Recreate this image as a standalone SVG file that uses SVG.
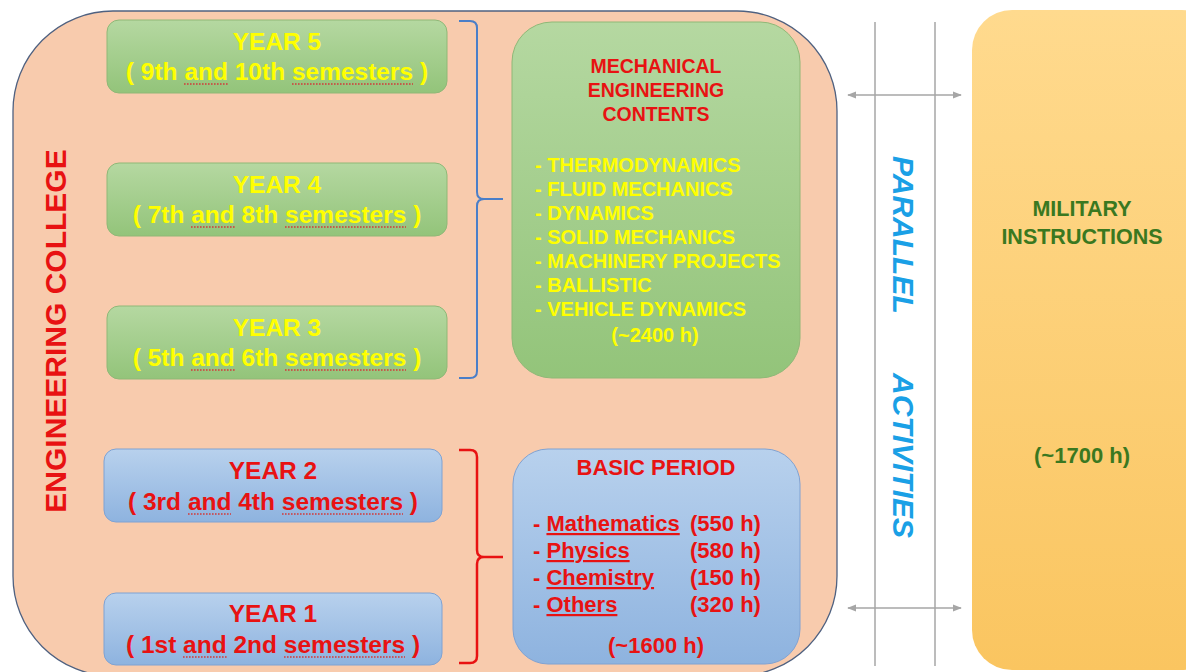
<svg xmlns="http://www.w3.org/2000/svg" width="1186" height="672" viewBox="0 0 1186 672">
<defs>
<linearGradient id="gGreen" x1="0" y1="0" x2="0" y2="1"><stop offset="0" stop-color="#b5d8a1"/><stop offset="1" stop-color="#93c47a"/></linearGradient>
<linearGradient id="gBlue" x1="0" y1="0" x2="0" y2="1"><stop offset="0" stop-color="#b8d1ed"/><stop offset="1" stop-color="#8eb3df"/></linearGradient>
<linearGradient id="gOrange" x1="0" y1="0" x2="0" y2="1"><stop offset="0" stop-color="#ffda8e"/><stop offset="1" stop-color="#fac560"/></linearGradient>
<marker id="ah" viewBox="0 0 10 10" refX="9" refY="5" markerWidth="6" markerHeight="6" orient="auto-start-reverse"><path d="M0,1 L10,5 L0,9 Z" fill="#a6a6a6"/></marker>
</defs>
<style>
text{font-family:"Liberation Sans",Arial,sans-serif;font-weight:bold}
.green{fill:url(#gGreen);stroke:#8fb877;stroke-width:1}
.blue{fill:url(#gBlue);stroke:#7fa2d3;stroke-width:1}
.yel{fill:#ffff00}
.red{fill:#e81212}
.yt{font-size:24.5px;text-anchor:middle}
.spell{stroke:#d23a3a;stroke-width:1.6;stroke-dasharray:1.6 1.4;fill:none}
.mech{font-size:20px}
.basic{font-size:22px}
.gray{stroke:#a6a6a6;stroke-width:1.5;fill:none}
</style>
<rect width="1186" height="672" fill="#ffffff"/>

<g id="engineering-college">
<rect x="13" y="11" width="824" height="665" rx="100" ry="100" fill="#f8cbad" stroke="#4f6180" stroke-width="1.3"/>
<text class="red" font-size="30" text-anchor="middle" transform="translate(66,331) rotate(-90)">ENGINEERING COLLEGE</text>
</g>

<g id="year5">
<rect class="green" x="107" y="20" width="340" height="73" rx="12"/>
<text class="yel yt" x="277" y="50">YEAR 5</text>
<text class="yel yt" x="277" y="80">( 9th and 10th semesters )</text>
<path class="spell" d="M184,84H228M292,84H413"/>
</g>
<g id="year4">
<rect class="green" x="107" y="163" width="340" height="73" rx="12"/>
<text class="yel yt" x="277" y="193">YEAR 4</text>
<text class="yel yt" x="277" y="223">( 7th and 8th semesters )</text>
<path class="spell" d="M191,227H235M285,227H406"/>
</g>
<g id="year3">
<rect class="green" x="107" y="306" width="340" height="73" rx="12"/>
<text class="yel yt" x="277" y="336">YEAR 3</text>
<text class="yel yt" x="277" y="366">( 5th and 6th semesters )</text>
<path class="spell" d="M191,370H235M285,370H406"/>
</g>
<g id="year2">
<rect class="blue" x="104" y="449" width="338" height="73" rx="12"/>
<text class="red yt" x="273" y="479">YEAR 2</text>
<text class="red yt" x="273" y="510">( 3rd and 4th semesters )</text>
<path class="spell" d="M188,514H231M282,514H403"/>
</g>
<g id="year1">
<rect class="blue" x="104" y="593" width="338" height="72" rx="12"/>
<text class="red yt" x="273" y="622">YEAR 1</text>
<text class="red yt" x="273" y="653">( 1st and 2nd semesters )</text>
<path class="spell" d="M183,657H227M284,657H405"/>
</g>

<g id="mechanical-contents">
<rect class="green" x="512" y="22" width="288" height="356" rx="40"/>
<text class="red" font-size="19.5" text-anchor="middle"><tspan x="656" y="73">MECHANICAL</tspan><tspan x="656" y="97">ENGINEERING</tspan><tspan x="656" y="121">CONTENTS</tspan></text>
<text class="yel mech"><tspan x="535" y="172">- THERMODYNAMICS</tspan><tspan x="535" y="196">- FLUID MECHANICS</tspan><tspan x="535" y="220">- DYNAMICS</tspan><tspan x="535" y="244">- SOLID MECHANICS</tspan><tspan x="535" y="268">- MACHINERY PROJECTS</tspan><tspan x="535" y="292">- BALLISTIC</tspan><tspan x="535" y="316">- VEHICLE DYNAMICS</tspan></text>
<text class="yel mech" x="655" y="342" text-anchor="middle">(~2400 h)</text>
</g>

<g id="basic-period">
<rect class="blue" x="513" y="449" width="287" height="215" rx="35"/>
<text class="red" font-size="22" x="656" y="475" text-anchor="middle">BASIC PERIOD</text>
<text class="red basic"><tspan x="533" y="531">- <tspan text-decoration="underline">Mathematics</tspan></tspan><tspan x="533" y="558">- <tspan text-decoration="underline">Physics</tspan></tspan><tspan x="533" y="585">- <tspan text-decoration="underline">Chemistry</tspan></tspan><tspan x="533" y="612">- <tspan text-decoration="underline">Others</tspan></tspan></text>
<text class="red basic"><tspan x="690" y="531">(550 h)</tspan><tspan x="690" y="558">(580 h)</tspan><tspan x="690" y="585">(150 h)</tspan><tspan x="690" y="612">(320 h)</tspan></text>
<text class="red basic" x="656" y="653" text-anchor="middle">(~1600 h)</text>
</g>

<g id="military-instructions">
<rect x="972" y="10" width="250" height="660" rx="40" fill="url(#gOrange)"/>
<text fill="#3a7820" font-size="21.5" text-anchor="middle"><tspan x="1082" y="216">MILITARY</tspan><tspan x="1082" y="244">INSTRUCTIONS</tspan></text>
<text fill="#3a7820" font-size="22" x="1082" y="463" text-anchor="middle">(~1700 h)</text>
</g>

<g id="parallel-activities">
<text fill="#1aa0e6" font-size="30" font-style="italic" transform="translate(893,156) rotate(90)">PARALLEL</text>
<text fill="#1aa0e6" font-size="30" font-style="italic" transform="translate(893,373) rotate(90)">ACTIVITIES</text>
</g>

<g id="connectors">
<path d="M459,21 L470,21 Q477,21 477,28 L477,192 Q477,199 484,199 L503,199 M484,199 Q477,199 477,206 L477,371 Q477,378 470,378 L459,378" fill="none" stroke="#4a7ec8" stroke-width="2"/>
<path d="M459,450 L470,450 Q477,450 477,457 L477,550 Q477,557 484,557 L503,557 M484,557 Q477,557 477,564 L477,656 Q477,663 470,663 L459,663" fill="none" stroke="#e81212" stroke-width="2.5"/>
<line class="gray" x1="875" y1="22" x2="875" y2="666"/>
<line class="gray" x1="935" y1="22" x2="935" y2="666"/>
<line class="gray" x1="848" y1="95" x2="961" y2="95" marker-start="url(#ah)" marker-end="url(#ah)"/>
<line class="gray" x1="848" y1="608" x2="961" y2="608" marker-start="url(#ah)" marker-end="url(#ah)"/>
</g>
</svg>
